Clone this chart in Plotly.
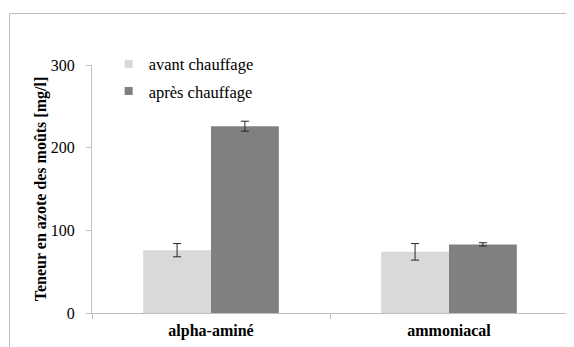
import plotly.graph_objects as go

categories = ["alpha-aminé", "ammoniacal"]
avant = [76, 74]
avant_err = [8, 10]
apres = [226, 83]
apres_err = [6, 2]
y_ticks = [0, 100, 200, 300]
series_names = ["avant chauffage", "après chauffage"]
series_colors = ["#d9d9d9", "#808080"]

FONT = "Liberation Serif"

fig = go.Figure()
for name, vals, errs, col in zip(series_names, [avant, apres], [avant_err, apres_err], series_colors):
    fig.add_trace(go.Bar(
        x=categories, y=vals, name=name, showlegend=False,
        marker=dict(color=col, line=dict(width=0)),
        error_y=dict(type="data", array=errs, color="#262626", thickness=1, width=4),
    ))
# legend entries with small square swatches
for i, (name, col) in enumerate(zip(series_names, series_colors)):
    fig.add_trace(go.Scatter(
        x=[None], y=[None], mode="markers", name=name, legendgroup=str(i),
        marker=dict(symbol="square", size=8, color=col),
    ))

fig.update_layout(
    width=566, height=339,
    margin=dict(l=84, r=6, t=57, b=34),
    paper_bgcolor="white", plot_bgcolor="white",
    font=dict(family=FONT, size=16, color="#000000"),
    barmode="group", bargap=0.43, bargroupgap=0,
    showlegend=True,
    legend=dict(x=0.035, y=1.075, xanchor="left", yanchor="top",
                bgcolor="rgba(0,0,0,0)", traceorder="grouped", tracegroupgap=3,
                font=dict(family=FONT, size=16.5), itemwidth=30),
    xaxis=dict(
        type="category", showline=True, linecolor="#bfbfbf", linewidth=1,
        ticks="outside", tickson="boundaries", ticklen=5, tickcolor="#bfbfbf",
        tickfont=dict(family=FONT, size=16, weight="bold"), showgrid=False,
        ticklabelstandoff=3,
    ),
    yaxis=dict(
        range=[0, 300], tickvals=y_ticks, showline=True, linecolor="#bfbfbf", linewidth=1,
        ticks="outside", ticklen=5, tickcolor="#bfbfbf", showgrid=False, zeroline=False,
        tickfont=dict(family=FONT, size=16), ticklabelstandoff=8,
        title=dict(text="Teneur en azote des moûts [mg/l]", standoff=0,
                   font=dict(family=FONT, size=16, weight="bold")),
    ),
    shapes=[dict(type="rect", xref="paper", yref="paper",
                 x0=-0.1733, x1=1.0116, y0=-0.149, y1=1.2077,
                 line=dict(color="#bfbfbf", width=1), fillcolor="rgba(0,0,0,0)", layer="below")],
)

fig.write_html("out.html")
